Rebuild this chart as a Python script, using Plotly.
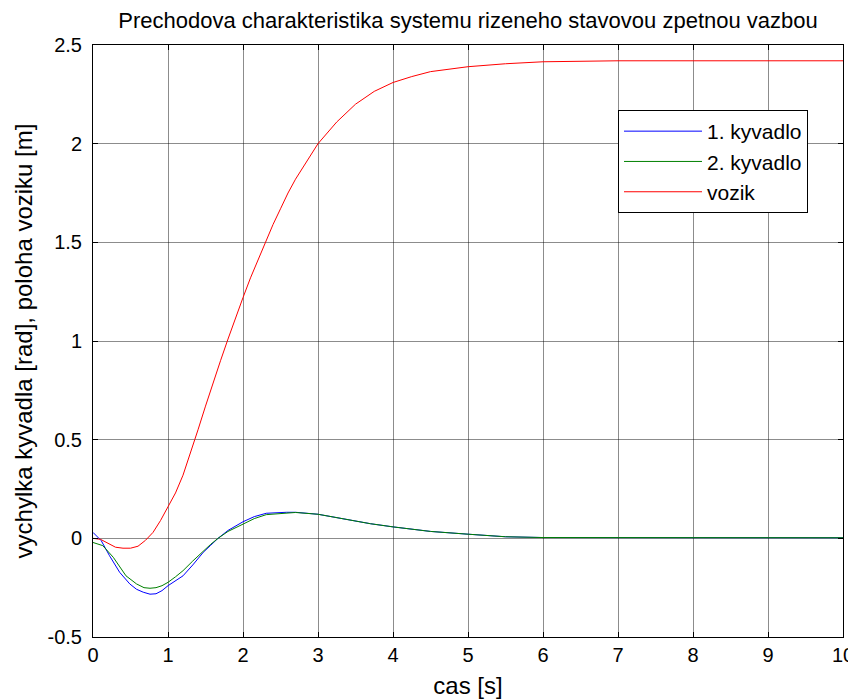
import plotly.graph_objects as go

# ---- data ----
t_vozik = [0, 0.1, 0.2, 0.3, 0.4, 0.5, 0.6, 0.7, 0.8, 0.9, 1.0, 1.1, 1.2, 1.3, 1.4, 1.5,
           1.6, 1.7, 1.8, 1.9, 2.0, 2.1, 2.2, 2.3, 2.4, 2.5, 2.6, 2.7, 2.8, 2.9, 3.0,
           3.25, 3.5, 3.75, 4.0, 4.25, 4.5, 5.0, 5.5, 6.0, 7.0, 8.0, 9.0, 10.0]
vozik = [0.0, -0.005, -0.025, -0.045, -0.05, -0.05, -0.04, -0.01, 0.03, 0.09, 0.16, 0.23,
         0.32, 0.43, 0.55, 0.67, 0.79, 0.90, 1.01, 1.12, 1.22, 1.32, 1.41, 1.50, 1.59,
         1.67, 1.75, 1.82, 1.88, 1.94, 2.00, 2.11, 2.20, 2.265, 2.31, 2.34, 2.365, 2.39,
         2.405, 2.415, 2.42, 2.42, 2.42, 2.42]

t_k1 = [0, 0.11, 0.22, 0.355, 0.49, 0.58, 0.67, 0.76, 0.84, 0.92, 1.0, 1.1, 1.2, 1.33,
        1.47, 1.57, 1.667, 1.8, 2.0, 2.15, 2.31, 2.58, 2.7, 3.0, 3.2, 3.46, 3.7, 4.0,
        4.5, 5.0, 5.5, 6.0, 7.0, 8.0, 9.0, 10.0]
kyvadlo1 = [0.03, -0.012, -0.088, -0.172, -0.231, -0.258, -0.273, -0.283, -0.281, -0.265,
            -0.24, -0.217, -0.19, -0.135, -0.071, -0.035, 0.0, 0.04, 0.084, 0.11, 0.127,
            0.132, 0.132, 0.122, 0.108, 0.089, 0.074, 0.058, 0.035, 0.021, 0.008, 0.004,
            0.003, 0.003, 0.003, 0.003]

t_k2 = [0, 0.13, 0.27, 0.44, 0.58, 0.68, 0.76, 0.84, 0.92, 1.0, 1.1, 1.2, 1.33, 1.47,
        1.57, 1.667, 1.8, 2.0, 2.15, 2.31, 2.58, 2.7, 3.0, 3.2, 3.46, 3.7, 4.0, 4.5, 5.0,
        5.5, 6.0, 7.0, 8.0, 9.0, 10.0]
kyvadlo2 = [-0.021, -0.037, -0.096, -0.19, -0.231, -0.25, -0.253, -0.25, -0.24, -0.223,
            -0.195, -0.164, -0.115, -0.063, -0.03, 0.0, 0.035, 0.072, 0.1, 0.12, 0.13,
            0.131, 0.122, 0.108, 0.089, 0.074, 0.058, 0.035, 0.021, 0.008, 0.004, 0.003,
            0.003, 0.003, 0.003]

x_ticks = [0, 1, 2, 3, 4, 5, 6, 7, 8, 9, 10]
x_ticktext = ["0", "1", "2", "3", "4", "5", "6", "7", "8", "9", "10"]
y_ticks = [-0.5, 0, 0.5, 1, 1.5, 2, 2.5]
y_ticktext = ["-0.5", "0", "0.5", "1", "1.5", "2", "2.5"]

FONT = "Liberation Sans, Arial, sans-serif"

# page body has an 8px default margin -> figure is 8px smaller, offsets reduced by 8
W, H = 848, 691

fig = go.Figure()
fig.add_trace(go.Scatter(x=t_k1, y=kyvadlo1, mode="lines", name="1. kyvadlo",
                         line=dict(color="#0000ff", width=1)))
fig.add_trace(go.Scatter(x=t_k2, y=kyvadlo2, mode="lines", name="2. kyvadlo",
                         line=dict(color="#008000", width=1)))
fig.add_trace(go.Scatter(x=t_vozik, y=vozik, mode="lines", name="vozik",
                         line=dict(color="#ff0000", width=1)))

axis_common = dict(
    showline=True, linecolor="black", linewidth=1, mirror="ticks",
    ticks="inside", ticklen=5, tickcolor="black",
    showgrid=True, gridcolor="rgba(0,0,0,0.45)", gridwidth=1,
    zeroline=False, automargin=False,
    tickfont=dict(family=FONT, size=20, color="black"),
)

fig.update_layout(
    width=W, height=H,
    margin=dict(l=85, r=13, t=37, b=62, autoexpand=False),
    paper_bgcolor="white", plot_bgcolor="white",
    font=dict(family=FONT, color="black"),
    title=dict(text="Prechodova charakteristika systemu rizeneho stavovou zpetnou vazbou",
               x=0.5, xref="paper", y=1 - 12 / H, yref="container", yanchor="middle",
               font=dict(family=FONT, size=22, color="black"), automargin=False),
    xaxis=dict(range=[0, 10], tickvals=x_ticks, ticktext=x_ticktext,
               title=dict(text="cas [s]", font=dict(family=FONT, size=24), standoff=15),
               **axis_common),
    yaxis=dict(range=[-0.5, 2.5], tickvals=y_ticks, ticktext=y_ticktext,
               ticklabelstandoff=6,
               title=dict(text="vychylka kyvadla [rad], poloha voziku [m]",
                          font=dict(family=FONT, size=24), standoff=8),
               **axis_common),
    legend=dict(x=(618 - 93) / 750, y=(637 - 110) / 592, xanchor="left", yanchor="top",
                bordercolor="black", borderwidth=1, bgcolor="white",
                font=dict(family=FONT, size=21, color="black"),
                itemwidth=78, entrywidth=115, tracegroupgap=0),
    showlegend=True,
)

fig.write_html("out.html")
